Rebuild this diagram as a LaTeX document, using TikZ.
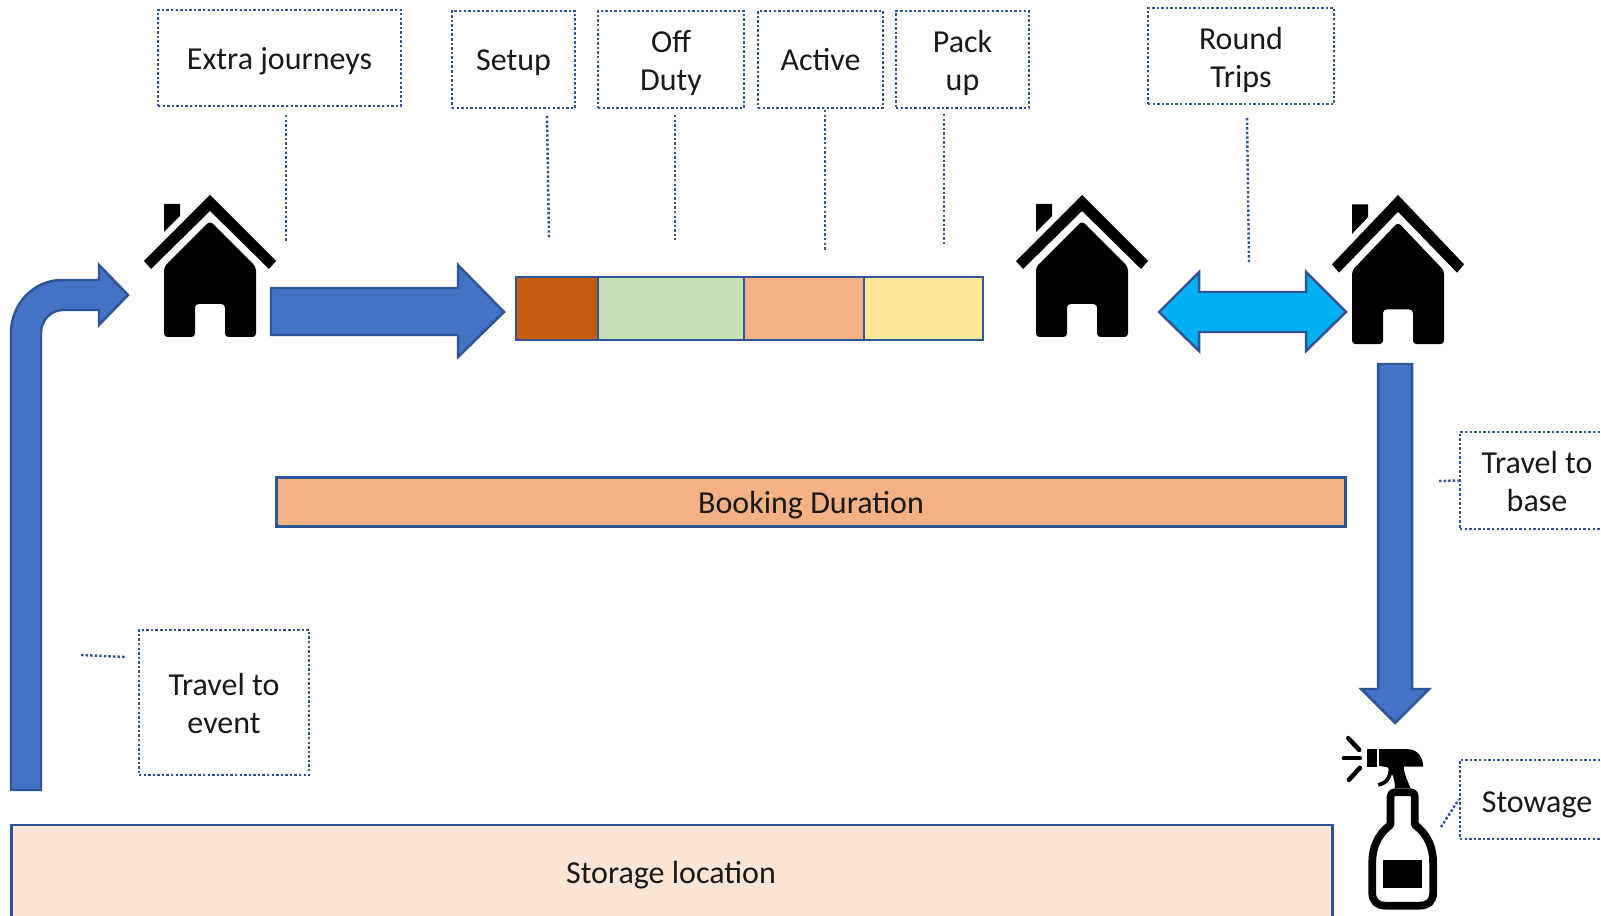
\documentclass[tikz,border=0pt]{standalone}
\usepackage{fontspec}
\setmainfont{Carlito}
\definecolor{arrowblue}{HTML}{4472C4}
\definecolor{edgeblue}{HTML}{2F5597}
\definecolor{skyblue}{HTML}{00B0F0}
\definecolor{setupcol}{HTML}{C55A11}
\definecolor{offcol}{HTML}{C5E0B4}
\definecolor{activecol}{HTML}{F4B183}
\definecolor{packcol}{HTML}{FFE699}
\definecolor{storecol}{HTML}{FBE5D6}
\newcommand{\topline}{\rule{0pt}{8.5pt}}
\newcommand{\botline}{\rule[-1.5pt]{0pt}{0pt}}
\tikzset{
  dotbox/.style={draw=edgeblue,line width=0.7pt,dash pattern=on 0.7pt off 0.6pt,inner sep=0pt,align=center,text=black!90},
  leader/.style={draw=edgeblue,line width=0.7pt,dash pattern=on 0.7pt off 0.6pt},
  bararrow/.style={draw=edgeblue,line width=0.7pt,fill=arrowblue},
  segment/.style={draw=edgeblue,line width=0.7pt},
  longbar/.style={draw=edgeblue,line width=0.7pt,inner sep=0pt,text=black!90},
  oneline/.style={text height=8pt,text depth=1.5pt},
  house/.pic={
    \fill[black] (-66,66) -- (0,0) -- (66,66) -- (59,74) -- (0,16) -- (-59,74) -- cycle; % roof
    \fill[black] (-46,9) -- (-30,9) -- (-30,21) -- (-46,37) -- cycle; % chimney
    \fill[black,rounded corners=1pt] (0,26) -- (46,72) -- (46,142) -- (15,142) -- (15,109) -- (-15,109) -- (-15,142) -- (-46,142) -- (-46,72) -- cycle;
  }
}
\begin{document}
\begin{tikzpicture}[x=0.01cm,y=-0.01cm,font=\fontsize{9.1}{10.9}\selectfont]
\clip (0,0) rectangle (1601,916);

% labels at the top
\node[dotbox,oneline,minimum width=2.43cm,minimum height=0.96cm] (extra) at (279.5,58) {Extra journeys};
\node[dotbox,oneline,minimum width=1.23cm,minimum height=0.97cm] (setup) at (513.5,59.5) {Setup};
\node[dotbox,minimum width=1.46cm,minimum height=0.97cm] (offduty) at (671,59.5) {\topline Off\\Duty\botline};
\node[dotbox,oneline,minimum width=1.25cm,minimum height=0.97cm] (active) at (820.5,59.5) {Active};
\node[dotbox,minimum width=1.33cm,minimum height=0.97cm] (packup) at (962.5,59.5) {\topline Pack\\up\botline};
\node[dotbox,minimum width=1.86cm,minimum height=0.96cm] (round) at (1241,56) {\topline Round\\Trips\botline};
\node[dotbox,minimum width=1.54cm,minimum height=0.97cm] (tobase) at (1537,480.5) {\topline Travel to\\base\botline};
\node[dotbox,text height=9pt,text depth=1.5pt,minimum width=1.54cm,minimum height=0.79cm] (stowage) at (1537,799.5) {Stowage};
\node[dotbox,minimum width=1.70cm,minimum height=1.45cm] (toevent) at (224,702.5) {\topline Travel to\\event\botline};

% free ends of the dotted lines
\coordinate (extraa) at (286,115); \coordinate (extrab) at (286,241);
\coordinate (setupa) at (547,116); \coordinate (setupb) at (549,238);
\coordinate (offa) at (675,115); \coordinate (offb) at (675,240);
\coordinate (activea) at (825,110); \coordinate (activeb) at (825,250);
\coordinate (packa) at (944,114); \coordinate (packb) at (944,245);
\coordinate (rounda) at (1247,118); \coordinate (roundb) at (1249,263);
\coordinate (basea) at (1439,481);
\coordinate (stowa) at (1441,827);
\coordinate (eventa) at (81,655); \coordinate (eventb) at (125,657);

\draw[leader] (extraa)--(extrab);
\draw[leader] (setupa)--(setupb);
\draw[leader] (offa)--(offb);
\draw[leader] (activea)--(activeb);
\draw[leader] (packa)--(packb);
\draw[leader] (rounda)--(roundb);
\draw[leader] (basea)--(tobase.west);
\draw[leader] (stowa)--(stowage.west);
\draw[leader] (eventa)--(eventb);

% houses
\pic (houseone) at (210,195) {house};
\pic (housetwo) at (1082,195) {house};
\pic[yscale=1.05] (housethree) at (1398,195) {house};

% block arrows
\draw[bararrow] (11,790) -- (11,333) arc[start angle=180,end angle=90,x radius=51,y radius=-53] -- (99,280) -- (99,265) -- (128,295) -- (99,325) -- (99,310) -- (63,310) arc[start angle=90,end angle=180,x radius=22,y radius=-23] -- (41,790) -- cycle;
\draw[bararrow] (271,288) -- (458,288) -- (458,265) -- (504,312) -- (458,357) -- (458,335) -- (271,335) -- cycle;
\draw[bararrow] (1378,364) -- (1412,364) -- (1412,689) -- (1429,689) -- (1395,723) -- (1361,689) -- (1378,689) -- cycle;
\draw[bararrow,fill=skyblue] (1159,312) -- (1199,272) -- (1199,292) -- (1306,292) -- (1306,272) -- (1346,312) -- (1306,351) -- (1306,332) -- (1199,332) -- (1199,351) -- cycle;

% the bar of four parts
\draw[segment,fill=setupcol] (516,277) rectangle (598,340);
\draw[segment,fill=offcol] (598,277) rectangle (744,340);
\draw[segment,fill=activecol] (744,277) rectangle (864,340);
\draw[segment,fill=packcol] (864,277) rectangle (983,340);

\node[longbar,oneline,fill=activecol,minimum width=10.68cm,minimum height=0.49cm] (booking) at (811,502) {Booking Duration};
\node[longbar,fill=storecol,minimum width=13.20cm,minimum height=1.00cm] (storage) at (672,875) {};
\node[oneline,text=black!90,inner sep=0pt] (storagetext) at (671,872) {Storage location};

% spray bottle
\begin{scope}[shift={(1300,680)},x=0.00333333cm,y=-0.00333333cm]
\draw[black,line width=2.2pt,line join=round] (272,350) .. controls (272,342) and (278,337) .. (285,337) -- (332,337) .. controls (340,337) and (345,342) .. (345,350) -- (345,435) .. controls (385,465) and (400,505) .. (400,550) -- (400,640) .. controls (400,665) and (385,678) .. (360,678) -- (257,678) .. controls (232,678) and (217,665) .. (217,640) -- (217,550) .. controls (217,505) and (232,465) .. (272,435) -- cycle;
\fill[black] (250,540) rectangle (367,625);
\fill[black] (202,208) rectangle (232,262);
\fill[black] (238,208) -- (325,208) .. controls (352,208) and (370,232) .. (370,260) -- (312,260) .. controls (312,285) and (325,305) .. (332,325) -- (285,325) .. controls (285,300) and (280,280) .. (262,262) -- (238,258) -- cycle;
\draw[black,line width=1.1pt] (235,315) .. controls (262,310) and (272,290) .. (272,265);
\draw[black,line width=1.3pt,line cap=round] (145,175) -- (178,210);
\draw[black,line width=1.3pt,line cap=round] (132,235) -- (180,235);
\draw[black,line width=1.3pt,line cap=round] (147,300) -- (180,264);
\end{scope}

\end{tikzpicture}
\end{document}
